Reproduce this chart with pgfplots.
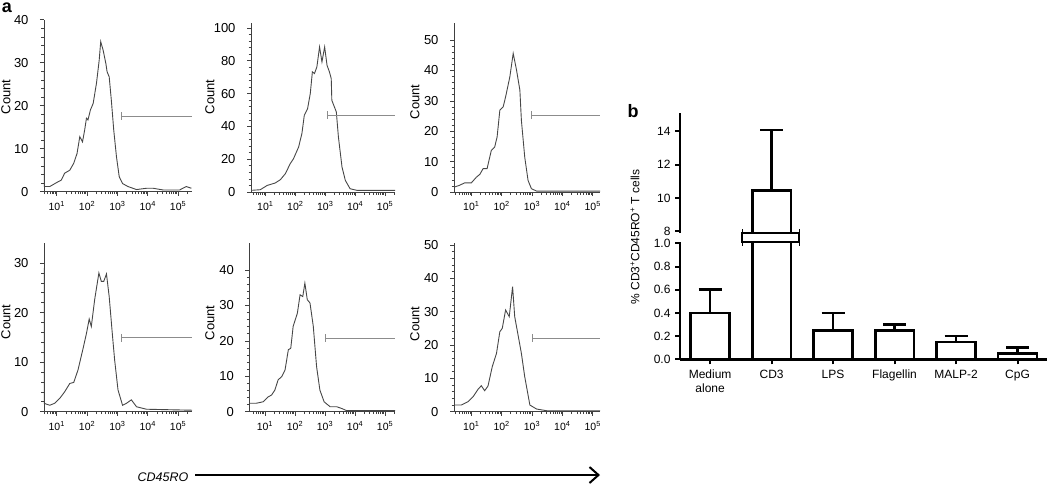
\documentclass[border=0pt]{standalone}
\usepackage{fontspec}
\setmainfont{Liberation Sans}
\usepackage{pgfplots}
\pgfplotsset{compat=1.18}
\usetikzlibrary{arrows.meta}

\pgfplotsset{
  hist/.style={
    scale only axis, anchor=south west,
    axis x line*=bottom, axis y line*=left,
    axis line style={black!75, line width=0.8pt},
    tick align=outside,
    major tick length=4pt, minor tick length=2.5pt,
    every tick/.style={black!75, line width=0.6pt},
    xtick={1,2,3,4,5},
    xticklabels={10\textsuperscript{1},10\textsuperscript{2},10\textsuperscript{3},10\textsuperscript{4},10\textsuperscript{5}},
    minor xtick={0.477,0.602,0.699,0.778,0.845,0.903,0.954,
      1.301,1.477,1.602,1.699,1.778,1.845,1.903,1.954,
      2.301,2.477,2.602,2.699,2.778,2.845,2.903,2.954,
      3.301,3.477,3.602,3.699,3.778,3.845,3.903,3.954,
      4.301,4.477,4.602,4.699,4.778,4.845,4.903,4.954,5.301},
    minor y tick num=4,
    xticklabel style={font=\fontsize{10.5}{12}\selectfont, yshift=-2pt},
    yticklabel style={font=\fontsize{13}{15}\selectfont, xshift=-8pt},
    /pgf/number format/assume math mode=true,
  },
  hcurve/.style={black!72, line width=0.9pt},
  gate/.style={black!45, line width=1pt, mark=|, mark indices={1}, mark size=4pt, mark options={line width=1pt, black!45}},
  bars/.style={draw=black, fill=white, line width=2.6pt,
    error bars/.cd, y dir=plus, y explicit,
    error bar style={line width=2.6pt, black},
    error mark options={rotate=90, line width=2.6pt, mark size=11.5pt, black}},
}

\begin{document}
\begin{tikzpicture}
\useasboundingbox (0,0) rectangle (1050pt,-483pt);

% ---------- panel 1 ----------
\begin{axis}[hist, at={(44pt,-191.7pt)}, width=148pt, height=172pt,
  xmin=0.58, xmax=5.46, ymin=0, ymax=40, ytick={0,10,20,30,40}]
\addplot[hcurve] coordinates {(0.58,28) (0.58,1.2) (0.77,1.2) (0.99,2.1) (1.15,2.7) (1.26,4.3) (1.43,5.0) (1.56,6.6) (1.67,8.9) (1.76,12.8) (1.85,11.6) (1.92,14.3) (1.98,17.1) (2.03,16.7) (2.11,19.0) (2.2,20.5) (2.31,25.2) (2.4,30.6) (2.45,34.9) (2.53,32.9) (2.62,29.8) (2.66,27.9) (2.73,26.7) (2.8,21.3) (2.88,14.3) (2.97,8.1) (3.06,3.5) (3.17,1.9) (3.35,1.2) (3.63,0.5) (3.96,0.8) (4.18,0.8) (4.51,0.4) (5.05,0.4) (5.27,1.2) (5.44,0.8)};
\addplot[gate] coordinates {(3.13,17.6) (5.46,17.6)};
\end{axis}

% ---------- panel 2 ----------
\begin{axis}[hist, at={(251pt,-192pt)}, width=144pt, height=169pt,
  xmin=0.52, xmax=5.33, ymin=0, ymax=103, ytick={0,20,40,60,80,100}]
\addplot[hcurve] coordinates {(0.52,29) (0.52,1) (0.83,1.4) (1.06,4) (1.33,5.5) (1.5,7.5) (1.67,11.2) (1.83,17.3) (1.94,20.3) (2.11,27.4) (2.22,35.6) (2.3,46.7) (2.41,50.8) (2.5,60) (2.57,73.2) (2.64,72.2) (2.72,76.2) (2.81,88.4) (2.89,79.3) (2.98,88.4) (3.06,77.2) (3.14,73.2) (3.2,69.1) (3.22,55.9) (3.37,48.8) (3.44,33.5) (3.56,15.2) (3.67,7.1) (3.83,2) (4.06,1) (5.33,1)};
\addplot[gate] coordinates {(3.08,46.8) (5.33,46.8)};
\end{axis}

% ---------- panel 3 ----------
\begin{axis}[hist, at={(454pt,-192pt)}, width=146pt, height=169pt,
  xmin=0.43, xmax=5.24, ymin=0, ymax=55.6, ytick={0,10,20,30,40,50}]
\addplot[hcurve] coordinates {(0.43,25.8) (0.43,1.6) (0.61,2.2) (0.78,3) (1,3) (1.17,4.9) (1.28,5.8) (1.39,7.7) (1.52,7.7) (1.66,13.7) (1.77,14.8) (1.85,18.1) (1.94,26.9) (2.05,28) (2.13,31.3) (2.27,37.9) (2.38,45.6) (2.49,40.1) (2.6,33.5) (2.65,23.6) (2.76,11.5) (2.87,3.8) (2.98,1.1) (3.15,0.3) (5.24,0.3)};
\addplot[gate] coordinates {(2.98,25.2) (5.24,25.2)};
\end{axis}

% ---------- panel 4 ----------
\begin{axis}[hist, at={(44pt,-411.7pt)}, width=148pt, height=169pt,
  xmin=0.58, xmax=5.46, ymin=0, ymax=34.1, ytick={0,10,20,30}]
\addplot[hcurve] coordinates {(0.58,29) (0.58,1.7) (0.77,1.3) (0.93,1.7) (1.1,2.7) (1.26,4) (1.43,5.7) (1.56,5.9) (1.7,8.4) (1.87,12.8) (1.98,15.8) (2.07,18.7) (2.14,17.2) (2.25,22.6) (2.39,28) (2.47,26.3) (2.55,26.3) (2.64,27.8) (2.73,23.2) (2.84,15.2) (2.91,10.4) (3.02,4.4) (3.17,1.3) (3.3,1.7) (3.46,2.4) (3.63,1) (3.96,0.5) (5.46,0.3)};
\addplot[gate] coordinates {(3.13,14.9) (5.46,14.9)};
\end{axis}

% ---------- panel 5 ----------
\begin{axis}[hist, at={(249.3pt,-411.7pt)}, width=145.7pt, height=169pt,
  xmin=0.48, xmax=5.33, ymin=0, ymax=47.7, ytick={0,10,20,30,40}]
\addplot[hcurve] coordinates {(0.48,35) (0.48,2.4) (0.72,2.4) (0.94,2.8) (1.11,4.2) (1.22,4.7) (1.33,6.1) (1.44,9) (1.56,9.9) (1.67,11.8) (1.78,17.5) (1.86,17.9) (1.94,24.1) (2.08,27.8) (2.17,33) (2.26,32.5) (2.33,36.3) (2.41,31.6) (2.5,30.7) (2.61,24.1) (2.72,12.7) (2.83,6.1) (2.97,2.8) (3.17,1.4) (3.39,1.4) (3.56,0.9) (3.72,0.3) (5.33,0.3)};
\addplot[gate] coordinates {(3.02,20.8) (5.33,20.8)};
\end{axis}

% ---------- panel 6 ----------
\begin{axis}[hist, at={(454pt,-411.7pt)}, width=146pt, height=168.4pt,
  xmin=0.43, xmax=5.24, ymin=0, ymax=50.5, ytick={0,10,20,30,40,50}]
\addplot[hcurve] coordinates {(0.43,34.5) (0.43,2) (0.67,2) (0.89,3) (1.06,4.5) (1.22,6.7) (1.33,7.8) (1.44,6.3) (1.55,7.7) (1.69,13.5) (1.83,17.5) (1.94,24) (2.02,25) (2.13,30.5) (2.25,28.5) (2.36,37.5) (2.43,28.5) (2.51,24.5) (2.65,17.5) (2.76,10.5) (2.93,2) (3.15,0.8) (3.48,0.3) (5.24,0.3)};
\addplot[gate] coordinates {(3.0,22.1) (5.24,22.1)};
\end{axis}

% ---------- bar chart: lower part ----------
\begin{axis}[scale only axis, anchor=south west, at={(680pt,-359.3pt)},
  width=367pt, height=117.6pt,
  xmin=-0.49, xmax=5.48, ymin=0, ymax=1.014,
  axis x line*=bottom, axis y line*=left,
  axis line style={black, line width=2.6pt},
  tick align=outside, major tick length=5pt,
  every tick/.style={black, line width=2pt},
  xtick={0,1,2,3,4,5},
  xticklabels={{Medium\\alone},CD3,LPS,Flagellin,MALP-2,CpG},
  xticklabel style={align=center, font=\fontsize{12}{13.5}\selectfont, yshift=-2pt},
  ytick={0,0.2,0.4,0.6,0.8,1.0},
  yticklabel style={font=\fontsize{12}{14}\selectfont, xshift=-1pt,
    /pgf/number format/.cd, fixed, fixed zerofill, precision=1},
  /pgf/number format/assume math mode=true,
  ybar, bar width=38.7pt]
\addplot[bars]
  coordinates {(0,0.4) +- (0,0.2) (1,10.43) +- (0,3.64) (2,0.25) +- (0,0.15) (3,0.25) +- (0,0.05) (4,0.15) +- (0,0.05) (5,0.05) +- (0,0.05)};
\end{axis}

% ---------- bar chart: upper part ----------
\begin{axis}[scale only axis, anchor=south west, at={(680pt,-233pt)},
  width=367pt, height=119.7pt,
  xmin=-0.49, xmax=5.48, ymin=7.9, ymax=15.07,
  axis x line=none, axis y line*=left,
  axis line style={black, line width=2.6pt},
  tick align=outside, major tick length=5pt,
  every tick/.style={black, line width=2pt},
  xtick=\empty,
  ytick={8,10,12,14},
  yticklabel style={font=\fontsize{12}{14}\selectfont, xshift=-1pt},
  /pgf/number format/assume math mode=true,
  ybar, bar width=38.7pt]
\addplot[bars] coordinates {(1,10.43) +- (0,3.64)};
\end{axis}

% axis break mark on the CD3 bar
\filldraw[fill=white, draw=black, line width=1.8pt] (742.3pt,-241.7pt) rectangle (799.3pt,-233.3pt);
\draw[black, line width=1.6pt] (742.3pt,-229pt) -- (742.3pt,-246pt) (799.3pt,-229pt) -- (799.3pt,-246pt);

% labels
\node[font=\bfseries\fontsize{18}{20}\selectfont] at (7pt,-8pt) {a};
\node[font=\bfseries\fontsize{18}{20}\selectfont] at (633pt,-111pt) {b};
\foreach \x/\y in {6/97, 210/97, 415/102, 6/322, 210/323, 415/324}
  \node[rotate=90, font=\fontsize{13}{15}\selectfont] at (\x pt,-\y pt) {Count};
\node[rotate=90, font=\fontsize{12}{14}\selectfont] at (635pt,-237pt) {\% CD3\textsuperscript{+}CD45RO\textsuperscript{+} T cells};
\node[font=\itshape\fontsize{12.5}{14}\selectfont] at (163pt,-477pt) {CD45RO};
\draw[line width=2.2pt, -{Straight Barb[length=9pt, width=16pt, line width=2pt]}] (195pt,-475pt) -- (600pt,-475pt);
\end{tikzpicture}
\end{document}
